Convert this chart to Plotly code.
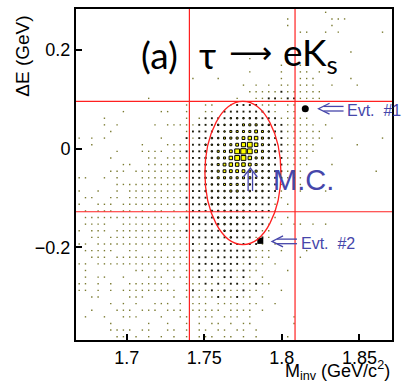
import numpy as np
import plotly.graph_objects as go

# ---------------- data ----------------
x_range = [1.6673, 1.8710]      # M_inv axis / histogram range (GeV/c^2)
y_range = [-0.3881, 0.2833]     # Delta E axis / histogram range (GeV)
n_xbins = 50
n_ybins = 50

# box-histogram contents (levels 1..9), one string per Delta E row, top row first
grid_rows = [
    ".......... .......... .......... .........1 ..........",
    ".......... .......... .......... ...1...... 111.......",
    ".......... .......... .......... ...1...... 1.........",
    ".......... .......... .......... .....11..1 .1......1.",
    ".......... .......... .......... .......... ..........",
    ".......... .......... .......... .......... ..........",
    ".......... .......... .......... .......... ...1......",
    ".......... .......... .......1.. .......... ..........",
    ".......... .......... .......... ..1..1.... ..........",
    ".......... .......... .......1.. ..1..11.1. ..........",
    ".......... ........1. ..1....... ..1..111.. ...1......",
    ".......... .......... ......1.1. 1.11.111.. 1...1.....",
    ".......... .......... .......111 112111111. ..........",
    ".......... .1........ .....1..11 221221111. ..........",
    ".......... .......1.. 11..122221 11.11..... ..........",
    ".......1.. ...11..1.. 11.2222222 21.11..... ..........",
    "....1..... .......1.1 2222333332 2211111... ..........",
    "....1.1... ..1.111112 2233334443 32211111.1 ..........",
    ".....1.... .......122 2233444454 322111111. ..........",
    "1.1.1..... ...1...212 2334445664 322111111. 1.......1.",
    "..1....... 1...111122 3334457864 32211111.. ....1.....",
    "......1... 1111.11222 3344589854 33211111.. ..........",
    ".....1.... .11.111122 3344688644 3221111... ..........",
    ".......11. .111111222 3345666543 3221111... 1.........",
    ".....111.1 1111111223 3345555443 322111.... .......1..",
    "11..1.1... 1111111122 3344444433 322111.... ..........",
    "......1111 1111111222 3334444333 221..1.... ..........",
    "1..1..1.11 1111111122 3333443333 221..1...1 ..........",
    ".11..11.11 1111111222 2333333332 211....... ..........",
    "1..111.111 1111111222 3333333322 21.1...... ..........",
    ".1.111.11. 1.11.1.122 2333333222 21........ ..........",
    ".111111111 1111111222 2233333222 11.1...... ..........",
    ".1111..111 111111.122 2233332222 1.1.11.1.1 ..........",
    "1.111.1111 1111111212 2223332221 1......... ..........",
    "..11.11111 1111111122 2222322212 1......... ..........",
    "11.1111111 1111111121 2222222221 .1........ ..........",
    ".11111..11 ..11.11121 2222222211 1.1...1... ..........",
    "..111.1111 1111111112 2122222211 1....1.... ..........",
    "11.1111111 1111111112 2222221211 .1........ ..........",
    ".1.......1 1.1.11.112 122221211. ...1...... ..........",
    ".1.11..1.. .111.11112 12122121.1 .......... ..........",
    "11.1.1..11 11111..111 2121221121 1......... ..........",
    "11.1.1.111 111111.121 121211211. ..1....... ..........",
    "..11....11 1....1.111 11211211.1 .......... ..........",
    ".....1.1.1 ..111.1.11 1.1111.11. .1........ ..........",
    "..1...111. 111.111.11 111.1111.1 .......... ..........",
    ".1..1..111 ...1..11.1 11.111.1.. ....1..... ..........",
    ".....1.... .1..1..1.1 .11.1.11.. ....1..... ..........",
    ".....1111. 11..11.1.1 1.11.11.1. .......... ..........",
    "......11.1 .1.1.1.1.1 11.11.1.1. ...1...... ..........",
]

signal_box_x = [1.7404, 1.8085]      # red vertical lines
signal_box_y = [0.0958, -0.1280]     # red horizontal lines
ellipse_x = [1.7504, 1.7994]
ellipse_y = [-0.1946, 0.0958]
events_x = [1.8151, 1.7861]
events_y = [0.0810, -0.1870]
event_labels = ["Evt.\u00a0\u00a0#1", "Evt.\u00a0\u00a0#2"]
x_ticks = [1.7, 1.75, 1.8, 1.85]
x_ticklabels = ["1.7", "1.75", "1.8", "1.85"]
y_ticks = [-0.2, 0.0, 0.2]
y_ticklabels = ["\u22120.2", "0", "0.2"]

# ---------------- build marks ----------------
xedges = np.linspace(x_range[0], x_range[1], n_xbins + 1)
yedges = np.linspace(y_range[1], y_range[0], n_ybins + 1)
xc = 0.5 * (xedges[:-1] + xedges[1:])
yc = 0.5 * (yedges[:-1] + yedges[1:])

size_of = {1: 1.4, 2: 1.9, 3: 1.4, 4: 2.0, 5: 2.8, 6: 3.5, 7: 4.2, 8: 4.8, 9: 5.4}
fill_of = {1: "#7a7a30", 2: "#1a1a0a"}
px, py, ps, pc, pl = [], [], [], [], []
for j, row in enumerate(grid_rows):
    row = row.replace(" ", "").ljust(n_xbins, ".")[:n_xbins]
    for i, ch in enumerate(row):
        if ch == ".":
            continue
        lev = int(ch)
        px.append(xc[i]); py.append(yc[j])
        ps.append(size_of[lev])
        pc.append(fill_of.get(lev, "#ffff00"))
        pl.append(0 if lev <= 2 else 1.0)

fig = go.Figure()
fig.add_trace(go.Scatter(
    x=px, y=py, mode="markers", hoverinfo="skip",
    marker=dict(symbol="square", size=ps, color=pc, opacity=1,
                line=dict(color="black", width=pl)),
))
fig.add_trace(go.Scatter(
    x=events_x, y=events_y, mode="markers", hoverinfo="skip",
    marker=dict(symbol=["circle", "square"], size=[7, 6], color="black", opacity=1,
                line=dict(width=0)),
))

red = "#ff2020"
blue = "#4646aa"

def px2x(X):
    return x_range[0] + (X - 76) / 1551.0
def px2y(Y):
    return (147.5 - Y) / 496.0
def path(points):
    return "M " + " L ".join(f"{px2x(a):.5f},{px2y(b):.5f}" for a, b in points)

shapes = []
for xv in signal_box_x:
    shapes.append(dict(type="line", xref="x", yref="paper", x0=xv, x1=xv, y0=0, y1=1,
                       line=dict(color=red, width=1.2)))
for yv in signal_box_y:
    shapes.append(dict(type="line", xref="paper", yref="y", x0=0, x1=1, y0=yv, y1=yv,
                       line=dict(color=red, width=1.2)))
shapes.append(dict(type="circle", xref="x", yref="y",
                   x0=ellipse_x[0], x1=ellipse_x[1], y0=ellipse_y[0], y1=ellipse_y[1],
                   line=dict(color=red, width=1.3)))

# blue double arrows (leftward, pointing to the events)
for tipX, tipY in [(318.5, 107.3), (272.0, 240.8)]:
    L = 25
    shapes.append(dict(type="path", xref="x", yref="y", line=dict(color=blue, width=1.3),
                       path=path([(tipX + 11, tipY - 5.5), (tipX, tipY), (tipX + 11, tipY + 5.5)])))
    for dy in (-2.3, 2.3):
        shapes.append(dict(type="path", xref="x", yref="y", line=dict(color=blue, width=1.3),
                           path=path([(tipX + 5, tipY + dy), (tipX + L, tipY + dy)])))
# blue double up-arrow near M.C.
tX, tY = 250.3, 167.0
shapes.append(dict(type="path", xref="x", yref="y", line=dict(color=blue, width=1.3),
                   path=path([(tX - 7, tY + 9), (tX, tY), (tX + 7, tY + 9)])))
for dx in (-2.2, 2.2):
    shapes.append(dict(type="path", xref="x", yref="y", line=dict(color=blue, width=1.3),
                       path=path([(tX + dx, tY + 4), (tX + dx, tY + 23)])))

ann = []
for k, (tx_, yy) in enumerate([(345, 109), (299, 243)]):
    ann.append(dict(x=px2x(tx_), y=px2y(yy), xref="x", yref="y", text=event_labels[k],
                    showarrow=False, xanchor="left", yanchor="middle",
                    font=dict(family="Liberation Sans", size=16, color=blue)))
ann.append(dict(x=px2x(271), y=px2y(179), xref="x", yref="y", text="M.C.",
                showarrow=False, xanchor="left", yanchor="middle",
                font=dict(family="Liberation Sans", size=29, color=blue)))
# title pieces
tf = dict(family="Lato", size=37, color="black")
ann.append(dict(x=px2x(159), y=px2y(53), xref="x", yref="y", text="(a)",
                showarrow=False, xanchor="center", yanchor="middle", font=tf))
ann.append(dict(x=px2x(207), y=px2y(53), xref="x", yref="y", text="\u03c4",
                showarrow=False, xanchor="center", yanchor="middle", font=tf))
ann.append(dict(x=px2x(250), y=px2y(51), xref="x", yref="y", text="\u27f6",
                showarrow=False, xanchor="center", yanchor="middle",
                font=dict(family="DejaVu Sans", size=30, color="black")))
ann.append(dict(x=px2x(281), y=px2y(53), xref="x", yref="y", text="eK<sub>s</sub>",
                showarrow=False, xanchor="left", yanchor="middle", font=tf))
# axis titles
ann.append(dict(x=(23 - 76) / 316.0, y=(340 - 55) / 333.0, xref="paper", yref="paper",
                text="\u0394E (GeV)", textangle=-90, showarrow=False,
                xanchor="center", yanchor="middle",
                font=dict(family="Liberation Sans", size=19, color="black")))
ann.append(dict(x=1.0, y=(340 - 385) / 333.0, xref="paper", yref="paper",
                text="M<sub>inv</sub> (GeV/c<sup>2</sup>)", showarrow=False,
                xanchor="right", yanchor="bottom",
                font=dict(family="Liberation Sans", size=18, color="black")))

axis_common = dict(showline=True, mirror=True, linecolor="black", linewidth=2,
                   ticks="inside", ticklen=6, tickwidth=1.5, tickcolor="black",
                   showgrid=False, zeroline=False,
                   tickfont=dict(family="Liberation Sans", size=18, color="black"))
fig.update_layout(
    width=404, height=385,
    margin=dict(l=76, r=12, t=7, b=45),
    paper_bgcolor="white", plot_bgcolor="white",
    showlegend=False,
    shapes=shapes, annotations=ann,
    xaxis=dict(range=x_range, tickvals=x_ticks, ticktext=x_ticklabels, **axis_common),
    yaxis=dict(range=y_range, tickvals=y_ticks, ticktext=y_ticklabels, **axis_common),
)
fig.write_html("out.html")
